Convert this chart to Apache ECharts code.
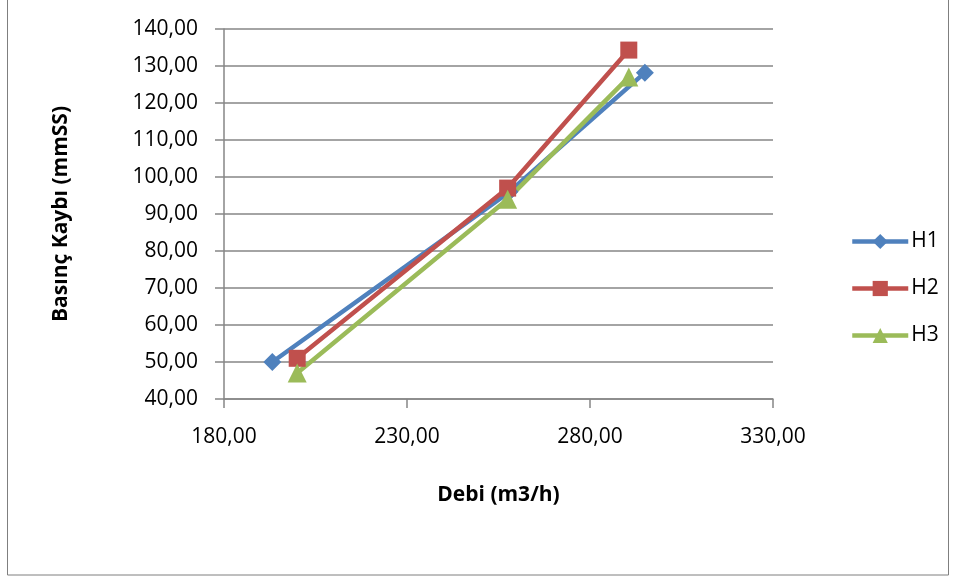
<!DOCTYPE html>
<html>
<head>
<meta charset="utf-8">
<script src="https://cdn.jsdelivr.net/npm/echarts@6/dist/echarts.min.js"></script>
<style>
  html, body { margin: 0; padding: 0; background: #fff; }
  #chart { width: 957px; height: 579px; }
</style>
</head>
<body>
<div id="chart"></div>
<script>
const seriesNames = ['H1', 'H2', 'H3'];
const h1Data = [[193.2, 50.0], [258.0, 96.0], [295.0, 128.2]];
const h2Data = [[200.0, 51.0], [257.5, 97.0], [290.6, 134.3]];
const h3Data = [[200.0, 47.0], [257.5, 94.0], [290.6, 127.0]];
const colors = ['#4F81BD', '#C0504D', '#9BBB59'];

const fmt = v => v.toFixed(2).replace('.', ',');
const font = 'Open Sans, Liberation Sans, sans-serif';

const chart = echarts.init(document.getElementById('chart'));
chart.setOption({
    animation: false,
    color: colors,
    textStyle: { fontFamily: font },
    graphic: [{
        type: 'rect',
        shape: { x: 7.5, y: -2, width: 941, height: 577 },
        style: { fill: 'none', stroke: '#7f7f7f', lineWidth: 1 }
    }],
    grid: { left: 224, right: 184, top: 29, bottom: 180 },
    legend: {
        orient: 'vertical',
        left: 845,
        top: 226,
        itemGap: 26,
        itemWidth: 56,
        itemHeight: 19,
        lineStyle: { width: 4.5 },
        textStyle: { fontSize: 21, color: '#000', fontFamily: font, padding: [0, 0, 0, -2] },
        data: seriesNames
    },
    xAxis: {
        type: 'value',
        min: 180, max: 330, interval: 50,
        name: 'Debi (m3/h)',
        nameLocation: 'middle',
        nameGap: 86,
        nameTextStyle: { fontSize: 21, fontWeight: 'bold', color: '#000' },
        axisLine: { lineStyle: { color: '#868686', width: 1.5 } },
        axisTick: { show: true, length: 9, lineStyle: { color: '#868686', width: 1.5 } },
        axisLabel: { fontSize: 21, color: '#000', margin: 28, formatter: fmt },
        splitLine: { show: false }
    },
    yAxis: {
        type: 'value',
        min: 40, max: 140, interval: 10,
        name: 'Basınç Kaybı (mmSS)',
        nameLocation: 'middle',
        nameGap: 152,
        nameRotate: 90,
        nameTextStyle: { fontSize: 21, fontWeight: 'bold', color: '#000' },
        axisLine: { show: true, lineStyle: { color: '#868686', width: 1.5 } },
        axisTick: { show: true, length: 9, lineStyle: { color: '#868686', width: 1.5 } },
        axisLabel: { fontSize: 21, color: '#000', margin: 26, formatter: fmt },
        splitLine: { lineStyle: { color: '#868686', width: 1.5 } }
    },
    series: [
        { name: 'H1', type: 'line', data: h1Data, symbol: 'diamond', symbolSize: 18,
          lineStyle: { width: 4.5 }, itemStyle: { color: colors[0] } },
        { name: 'H2', type: 'line', data: h2Data, symbol: 'rect', symbolSize: 17,
          lineStyle: { width: 4.5 }, itemStyle: { color: colors[1] } },
        { name: 'H3', type: 'line', data: h3Data, symbol: 'triangle', symbolSize: 19,
          lineStyle: { width: 4.5 }, itemStyle: { color: colors[2] } }
    ]
});
</script>
</body>
</html>
